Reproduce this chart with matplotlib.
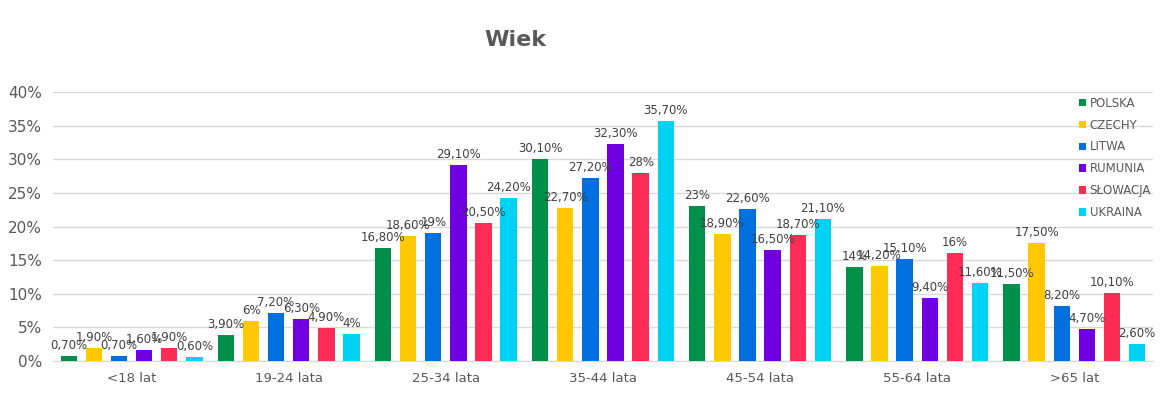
import matplotlib.pyplot as plt
import numpy as np

categories = ['<18 lat', '19-24 lata', '25-34 lata', '35-44 lata', '45-54 lata', '55-64 lata', '>65 lat']
countries = ['POLSKA', 'CZECHY', 'LITWA', 'RUMUNIA', 'SŁOWACJA', 'UKRAINA']
colors = ['#00904A', '#FFC800', '#0070E0', '#7000E0', '#FF2D55', '#00D2F5']

polska = [0.7, 3.9, 16.8, 30.1, 23.0, 14.0, 11.5]
czechy = [1.9, 6.0, 18.6, 22.7, 18.9, 14.2, 17.5]
litwa = [0.7, 7.2, 19.0, 27.2, 22.6, 15.1, 8.2]
rumunia = [1.6, 6.3, 29.1, 32.3, 16.5, 9.4, 4.7]
slowacja = [1.9, 4.9, 20.5, 28.0, 18.7, 16.0, 10.1]
ukraina = [0.6, 4.0, 24.2, 35.7, 21.1, 11.6, 2.6]
series = [polska, czechy, litwa, rumunia, slowacja, ukraina]


def fmt(v):
    if float(v).is_integer():
        return '%d%%' % v
    return ('%.2f%%' % v).replace('.', ',')


fig = plt.figure(figsize=(11.64, 3.95), dpi=100)
ax = fig.add_axes([0.0455, 0.086, 0.945, 0.681])

x = np.arange(len(categories))
width = 0.104
pitch = 0.16
for i, (name, vals, c) in enumerate(zip(countries, series, colors)):
    pos = x + (i - 2.5) * pitch
    bars = ax.bar(pos, vals, width, color=c, label=name, zorder=3)
    for b, v in zip(bars, vals):
        ax.text(b.get_x() + b.get_width() / 2, v + 0.6, fmt(v), ha='center', va='bottom',
                fontsize=8.5, color='#404040', zorder=4)

ax.set_xlim(-0.5, len(categories) - 0.5)
ax.set_ylim(0, 40)
ax.set_yticks(range(0, 41, 5))
ax.set_yticklabels(['%d%%' % t for t in range(0, 41, 5)], fontsize=11, color='#595959')
ax.set_xticks(x)
ax.set_xticklabels(categories, fontsize=9.5, color='#595959')
ax.tick_params(length=0, pad=8)
ax.grid(axis='y', color='#D9D9D9', linewidth=1, zorder=0)
for s in ['top', 'right', 'left']:
    ax.spines[s].set_visible(False)
ax.spines['bottom'].set_color('#D9D9D9')

fig.text(0.4425, 0.9, 'Wiek', ha='center', va='center', fontsize=16, fontweight='bold', color='#595959')

leg = ax.legend(loc='upper right', bbox_to_anchor=(1.008, 1.022), frameon=False, fontsize=8.5,
                handlelength=0.6, handleheight=0.6, handletextpad=0.3, labelspacing=0.75)
for t in leg.get_texts():
    t.set_color('#595959')

fig.savefig('out.png', dpi=100)
